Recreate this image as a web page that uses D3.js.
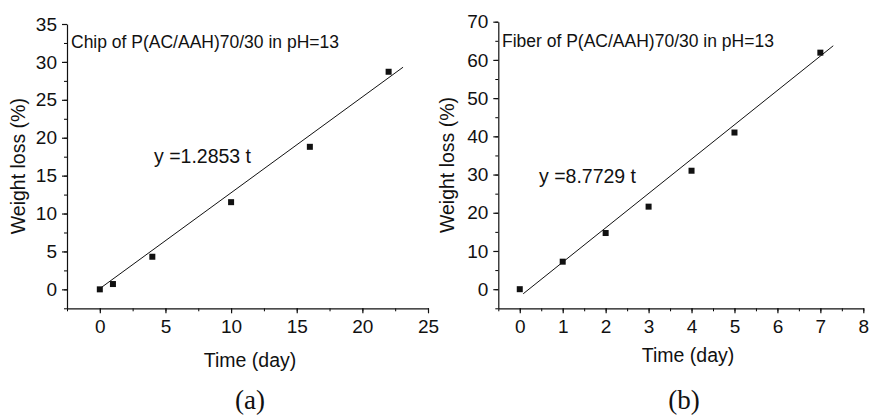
<!DOCTYPE html>
<html>
<head>
<meta charset="utf-8">
<script src="https://cdn.jsdelivr.net/npm/d3@7"></script>
<style>
  body { margin: 0; background: #fff; }
  svg { display: block; }
  .tick text { font-family: "Liberation Sans", Arial, sans-serif; }
</style>
</head>
<body>
<div id="viz"></div>
<script>
// panel (a): chip
var chipDays = [0, 1, 4, 10, 16, 22],
    chipLoss = [0, 0.7, 4.3, 11.5, 18.8, 28.7],
    chipFitT = [0.08, 23.1],
    chipFitY = [0.2, 29.3],
    chipXTicks = [0, 5, 10, 15, 20, 25],
    chipYTicks = [0, 5, 10, 15, 20, 25, 30, 35];

// panel (b): fiber
var fiberDays = [0, 1, 2, 3, 4, 5, 7],
    fiberLoss = [0, 7.2, 14.7, 21.6, 31, 41, 61.9],
    fiberFitT = [0.08, 7.3],
    fiberFitY = [-1.2, 63.7],
    fiberXTicks = [0, 1, 2, 3, 4, 5, 6, 7, 8],
    fiberYTicks = [0, 10, 20, 30, 40, 50, 60, 70];

var width = 870, height = 416,
    sans = '"Liberation Sans", Arial, sans-serif';

var svg = d3.select('#viz').append('svg')
  .attr('width', width)
  .attr('height', height);

var panels = [
  {
    days: chipDays, loss: chipLoss, fitT: chipFitT, fitY: chipFitY,
    xTicks: chipXTicks, yTicks: chipYTicks,
    xDom: [-2.5, 25], yDom: [-2.5, 35], xMinor: 2.5, yMinor: 2.5,
    left: 67, right: 428, top: 24, bottom: 308.3,
    note: 'Chip of P(AC/AAH)70/30 in pH=13', noteX: 71, noteY: 48,
    eq: 'y =1.2853 t', eqX: 154, eqY: 163,
    yTitleX: 18, xTitleX: 250, xTitleY: 367, tag: '(a)', tagX: 250
  },
  {
    days: fiberDays, loss: fiberLoss, fitT: fiberFitT, fitY: fiberFitY,
    xTicks: fiberXTicks, yTicks: fiberYTicks,
    xDom: [-0.5, 8], yDom: [-5, 70], xMinor: 0.5, yMinor: 5,
    left: 498.3, right: 863.3, top: 21.7, bottom: 308.3,
    note: 'Fiber of P(AC/AAH)70/30 in pH=13', noteX: 502, noteY: 47,
    eq: 'y =8.7729 t', eqX: 539, eqY: 183,
    yTitleX: 447, xTitleX: 688, xTitleY: 362, tag: '(b)', tagX: 684
  }
];

function minorValues(dom, step) {
  var out = [];
  for (var v = dom[0]; v <= dom[1] + 1e-9; v += step) out.push(+v.toFixed(4));
  return out;
}

panels.forEach(function(p) {
  var x = d3.scaleLinear().domain(p.xDom).range([p.left, p.right]),
      y = d3.scaleLinear().domain(p.yDom).range([p.bottom, p.top]);

  var g = svg.append('g');

  // minor ticks
  g.append('g')
    .attr('transform', 'translate(0,' + p.bottom + ')')
    .call(d3.axisBottom(x).tickValues(minorValues(p.xDom, p.xMinor))
      .tickSize(3).tickSizeOuter(0).tickFormat(''))
    .call(function(a) { a.select('.domain').remove(); });
  g.append('g')
    .attr('transform', 'translate(' + p.left + ',0)')
    .call(d3.axisLeft(y).tickValues(minorValues(p.yDom, p.yMinor))
      .tickSize(3).tickSizeOuter(0).tickFormat(''))
    .call(function(a) { a.select('.domain').remove(); });

  // major axes
  var xa = g.append('g')
    .attr('transform', 'translate(0,' + p.bottom + ')')
    .call(d3.axisBottom(x).tickValues(p.xTicks)
      .tickSize(5).tickSizeOuter(0).tickPadding(6));
  var ya = g.append('g')
    .attr('transform', 'translate(' + p.left + ',0)')
    .call(d3.axisLeft(y).tickValues(p.yTicks)
      .tickSize(5).tickSizeOuter(0).tickPadding(5));

  [xa, ya].forEach(function(a) {
    a.selectAll('path, line').attr('stroke', '#111').attr('stroke-width', 1.2);
    a.selectAll('text').attr('fill', '#111').style('font-size', '19px');
  });

  // fit line
  var fit = d3.line()
    .x(function(d, i) { return x(p.fitT[i]); })
    .y(function(d) { return y(d); });
  g.append('path')
    .attr('d', fit(p.fitY))
    .attr('fill', 'none')
    .attr('stroke', '#111')
    .attr('stroke-width', 1);

  // points
  g.selectAll('rect.pt').data(p.days)
    .enter().append('rect')
      .attr('class', 'pt')
      .attr('x', function(d) { return x(d) - 3; })
      .attr('y', function(d, i) { return y(p.loss[i]) - 3; })
      .attr('width', 6)
      .attr('height', 6)
      .attr('fill', '#111');

  // texts
  g.append('text')
    .attr('x', p.noteX).attr('y', p.noteY)
    .style('font-family', sans).style('font-size', '17.5px')
    .attr('fill', '#111')
    .text(p.note);

  g.append('text')
    .attr('x', p.eqX).attr('y', p.eqY)
    .style('font-family', sans).style('font-size', '19.5px')
    .attr('fill', '#111')
    .text(p.eq);

  g.append('text')
    .attr('x', p.xTitleX).attr('y', p.xTitleY)
    .attr('text-anchor', 'middle')
    .style('font-family', sans).style('font-size', '19.5px')
    .attr('fill', '#111')
    .text('Time (day)');

  g.append('text')
    .attr('transform', 'translate(' + p.yTitleX + ',' + ((p.top + p.bottom) / 2) + ') rotate(-90)')
    .attr('text-anchor', 'middle')
    .attr('dy', '0.35em')
    .style('font-family', sans).style('font-size', '19.5px')
    .attr('fill', '#111')
    .text('Weight loss (%)');

  g.append('text')
    .attr('x', p.tagX).attr('y', 409)
    .attr('text-anchor', 'middle')
    .style('font-family', '"Liberation Serif", "Times New Roman", serif')
    .style('font-size', '27px')
    .attr('fill', '#111')
    .text(p.tag);
});
</script>
</body>
</html>
